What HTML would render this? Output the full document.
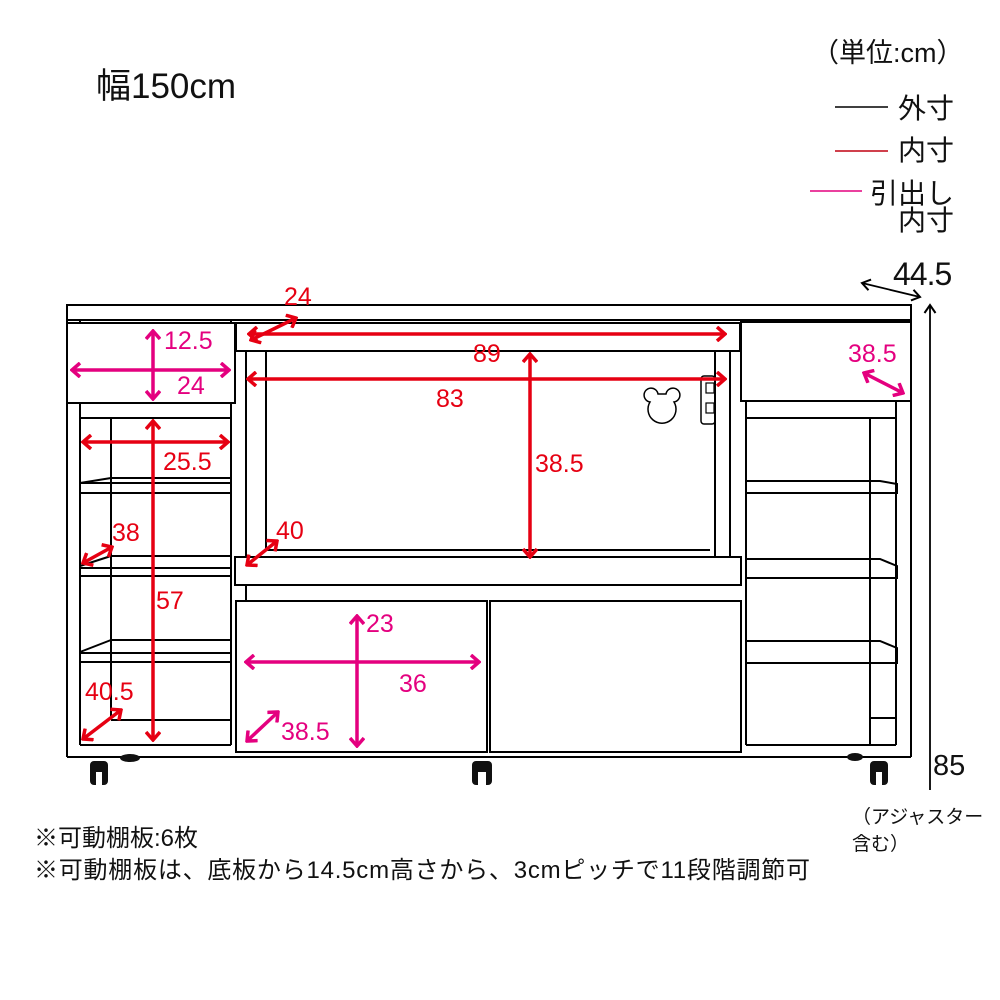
<!DOCTYPE html>
<html><head><meta charset="utf-8"><style>
html,body{margin:0;padding:0;background:#fff;}
svg{display:block}
text{font-family:"Liberation Sans","Noto Sans CJK JP",sans-serif;}
</style></head><body>
<svg width="1000" height="1000" viewBox="0 0 1000 1000" xmlns="http://www.w3.org/2000/svg">
<defs>
<marker id="r" viewBox="-12 -8 14 16" refX="0" refY="0" markerWidth="14" markerHeight="16" orient="auto-start-reverse" markerUnits="userSpaceOnUse"><path d="M-8,-7 L0,0 L-8,7" fill="none" stroke="#e60012" stroke-width="3.5"/></marker>
<marker id="m" viewBox="-12 -8 14 16" refX="0" refY="0" markerWidth="14" markerHeight="16" orient="auto-start-reverse" markerUnits="userSpaceOnUse"><path d="M-8,-7 L0,0 L-8,7" fill="none" stroke="#e4007f" stroke-width="3.5"/></marker>
<marker id="k" viewBox="-12 -8 14 16" refX="0" refY="0" markerWidth="14" markerHeight="16" orient="auto-start-reverse" markerUnits="userSpaceOnUse"><path d="M-8,-5.5 L0,0 L-8,5.5" fill="none" stroke="#000" stroke-width="2"/></marker>
</defs>

<text x="96" y="98" font-size="35" fill="#111">幅150cm</text>
<text x="812" y="62" font-size="27" fill="#111">（単位:cm）</text>
<line x1="835" y1="107" x2="888" y2="107" stroke="#000" stroke-width="1.5"/>
<text x="898" y="118" font-size="28" fill="#111">外寸</text>
<line x1="835" y1="151" x2="888" y2="151" stroke="#c00010" stroke-width="1.5"/>
<text x="898" y="160" font-size="28" fill="#111">内寸</text>
<line x1="810" y1="191" x2="862" y2="191" stroke="#e4007f" stroke-width="1.5"/>
<text x="870" y="203" font-size="28" fill="#111">引出し</text>
<text x="898" y="230" font-size="28" fill="#111">内寸</text>
<text x="893" y="285" font-size="32" fill="#111" letter-spacing="-1">44.5</text>
<line x1="862" y1="283" x2="920" y2="297" stroke="#000" stroke-width="1.8" marker-start="url(#k)" marker-end="url(#k)"/>
<line x1="930" y1="305" x2="930" y2="790" stroke="#000" stroke-width="1.8" marker-start="url(#k)"/>
<text x="933" y="775" font-size="29" fill="#111">85</text>
<text x="852" y="823" font-size="19" fill="#111">（アジャスター</text>
<text x="852" y="850" font-size="19" fill="#111">含む）</text>
<text x="34" y="846" font-size="24" fill="#111">※可動棚板:6枚</text>
<text x="34" y="878" font-size="24" fill="#111" textLength="776">※可動棚板は、底板から14.5cm高さから、3cmピッチで11段階調節可</text>

<g fill="none" stroke="#000" stroke-width="2">
<rect x="67" y="305" width="844" height="15" fill="#fff"/>
<line x1="67" y1="320" x2="67" y2="757"/>
<line x1="911" y1="320" x2="911" y2="757"/>
<line x1="67" y1="757" x2="911" y2="757"/>
<line x1="80" y1="320" x2="80" y2="745"/>
<line x1="231" y1="320" x2="231" y2="745"/>
<line x1="80" y1="745" x2="231" y2="745"/>
<line x1="111" y1="418" x2="111" y2="717"/>
<line x1="80" y1="418" x2="231" y2="418"/>
<rect x="80" y="483" width="151" height="10"/><line x1="80" y1="483" x2="111" y2="478"/><line x1="111" y1="478" x2="231" y2="478"/>
<rect x="80" y="568" width="151" height="8"/><line x1="80" y1="566" x2="111" y2="556"/><line x1="111" y1="556" x2="231" y2="556"/>
<rect x="80" y="653" width="151" height="9"/><line x1="80" y1="652" x2="111" y2="640"/><line x1="111" y1="640" x2="231" y2="640"/>
<line x1="111" y1="720" x2="231" y2="720"/>
<rect x="67" y="323" width="168" height="80" fill="#fff"/>
<rect x="236" y="323" width="504" height="28" fill="#fff"/>
<line x1="246" y1="351" x2="246" y2="557"/>
<line x1="266" y1="351" x2="266" y2="550"/>
<line x1="715" y1="351" x2="715" y2="557"/>
<line x1="730" y1="351" x2="730" y2="557"/>
<line x1="266" y1="550" x2="710" y2="550"/>
<rect x="235" y="557" width="506" height="28" fill="#fff"/>
<line x1="246" y1="585" x2="246" y2="600"/>
<rect x="236" y="601" width="251" height="151" fill="#fff"/>
<rect x="490" y="601" width="251" height="151" fill="#fff"/>
<line x1="746" y1="401" x2="746" y2="745"/>
<line x1="896" y1="401" x2="896" y2="745"/>
<line x1="746" y1="745" x2="896" y2="745"/>
<line x1="870" y1="418" x2="870" y2="745"/>
<line x1="746" y1="418" x2="896" y2="418"/>
<path d="M746,481 H880 L897,484 V493 H746"/>
<path d="M746,559 H880 L897,566 V578 H746"/>
<path d="M746,641 H880 L897,648 V663 H746"/>
<line x1="870" y1="718" x2="896" y2="718"/>
<rect x="741" y="322" width="170" height="79" fill="#fff"/>
<rect x="701" y="376" width="14" height="48" rx="3" stroke-width="1.5"/>
<rect x="706" y="383" width="8" height="10" stroke-width="1.2"/>
<rect x="706" y="403" width="8" height="10" stroke-width="1.2"/>
<path d="M650,402 a7,7 0 1 1 8,-8 h8 a7,7 0 1 1 8,8 a14,14 0 1 1 -24,0 z" stroke-width="1.5" fill="#fff"/>
</g>
<g fill="#111">
<rect x="90" y="761" width="18" height="24" rx="4"/>
<rect x="472" y="761" width="20" height="24" rx="4"/>
<rect x="870" y="761" width="18" height="24" rx="4"/>
<ellipse cx="130" cy="758" rx="10" ry="4"/>
<ellipse cx="855" cy="757" rx="8" ry="4"/>
</g>
<g fill="#fff"><rect x="96" y="772" width="6" height="13"/><rect x="478" y="772" width="8" height="13"/><rect x="876" y="772" width="6" height="13"/></g>

<g stroke="#e60012" stroke-width="3.5" fill="none">
<line x1="249" y1="334" x2="725" y2="334" marker-start="url(#r)" marker-end="url(#r)"/>
<line x1="251" y1="340" x2="296" y2="318" marker-start="url(#r)" marker-end="url(#r)"/>
<line x1="248" y1="379" x2="725" y2="379" marker-start="url(#r)" marker-end="url(#r)"/>
<line x1="530" y1="354" x2="530" y2="557" marker-start="url(#r)" marker-end="url(#r)"/>
<line x1="83" y1="442" x2="228" y2="442" marker-start="url(#r)" marker-end="url(#r)"/>
<line x1="153" y1="421" x2="153" y2="740" marker-start="url(#r)" marker-end="url(#r)"/>
<line x1="83" y1="563" x2="112" y2="547" marker-start="url(#r)" marker-end="url(#r)"/>
<line x1="247" y1="565" x2="277" y2="541" marker-start="url(#r)" marker-end="url(#r)"/>
<line x1="83" y1="739" x2="121" y2="710" marker-start="url(#r)" marker-end="url(#r)"/>
</g>
<g fill="#e60012" font-size="25">
<text x="284" y="305">24</text>
<text x="473" y="362">89</text>
<text x="436" y="407">83</text>
<text x="535" y="472">38.5</text>
<text x="163" y="470">25.5</text>
<text x="112" y="541">38</text>
<text x="276" y="539">40</text>
<text x="156" y="609">57</text>
<text x="85" y="700">40.5</text>
</g>
<g stroke="#e4007f" stroke-width="3.5" fill="none">
<line x1="72" y1="370" x2="229" y2="370" marker-start="url(#m)" marker-end="url(#m)"/>
<line x1="153" y1="331" x2="153" y2="399" marker-start="url(#m)" marker-end="url(#m)"/>
<line x1="864" y1="373" x2="903" y2="393" marker-start="url(#m)" marker-end="url(#m)"/>
<line x1="246" y1="662" x2="479" y2="662" marker-start="url(#m)" marker-end="url(#m)"/>
<line x1="357" y1="616" x2="357" y2="746" marker-start="url(#m)" marker-end="url(#m)"/>
<line x1="247" y1="741" x2="278" y2="712" marker-start="url(#m)" marker-end="url(#m)"/>
</g>
<g fill="#e4007f" font-size="25">
<text x="164" y="349">12.5</text>
<text x="177" y="394">24</text>
<text x="848" y="362">38.5</text>
<text x="366" y="632">23</text>
<text x="399" y="692">36</text>
<text x="281" y="740">38.5</text>
</g>
</svg>
</body></html>
